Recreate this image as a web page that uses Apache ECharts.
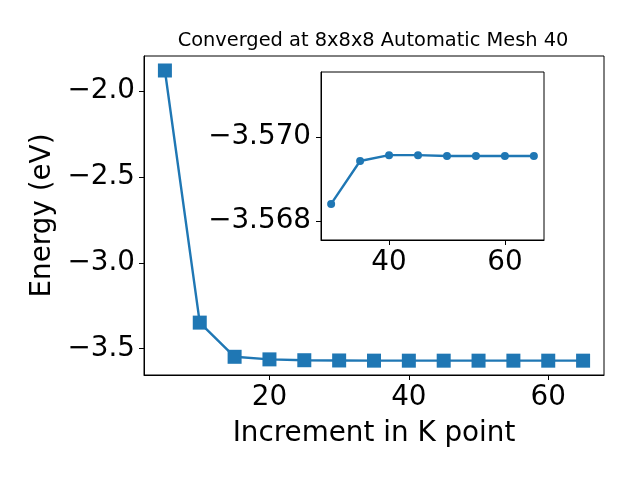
<!DOCTYPE html>
<html>
<head>
<meta charset="utf-8">
<script src="https://cdn.jsdelivr.net/npm/echarts@6/dist/echarts.min.js"></script>
<style>
html,body{margin:0;padding:0;background:#fff;}
#chart{width:640px;height:480px;}
</style>
</head>
<body>
<div id="chart"></div>
<script>
const kpoints = [5, 10, 15, 20, 25, 30, 35, 40, 45, 50, 55, 60, 65];
const energies = [-1.880, -3.348, -3.547, -3.562, -3.567, -3.56841, -3.56943, -3.56957, -3.56957, -3.56955, -3.56955, -3.56955, -3.56955];
const insetStart = 5; // inset shows k points from 30 onward
const mainXTicks = [20, 40, 60];
const mainYTicks = [-3.5, -3.0, -2.5, -2.0];
const insetXTicks = [40, 60];
const insetYTicks = [-3.570, -3.568];
const titleText = 'Converged at 8x8x8 Automatic Mesh 40';
const xName = 'Increment in K point';
const yName = 'Energy (eV)';

const FONT = 'DejaVu Sans';
const BLUE = '#1f77b4';
const minus = s => String(s).replace('-', '\u2212');

const mainData = kpoints.map((k, i) => [k, energies[i]]);
const insetData = kpoints.slice(insetStart).map((k, i) => [k, energies[insetStart + i]]);

const chart = echarts.init(document.getElementById('chart'));
const tickStyle = {show: true, inside: false, length: 5, lineStyle: {color: '#000', width: 1}};
const lineAx = {show: true, onZero: false, lineStyle: {color: '#000', width: 1}};

chart.setOption({
  animation: false,
  backgroundColor: '#fff',
  graphic: [{
    type: 'text', z: 100,
    style: {text: titleText, x: 373, y: 31, textAlign: 'center', textVerticalAlign: 'top',
      fontFamily: FONT, fontSize: 19.4, fill: '#000'}
  }],
  grid: [
    {left: 144, top: 56, width: 460, height: 319, show: true, borderColor: '#000', borderWidth: 1, backgroundColor: '#fff', containLabel: false},
    {left: 321, top: 72, width: 223, height: 168, show: true, borderColor: '#000', borderWidth: 1, backgroundColor: '#fff', containLabel: false, z: 10}
  ],
  xAxis: [
    {type: 'value', gridIndex: 0, min: 2, max: 68, splitLine: {show: false},
      axisLine: lineAx, axisTick: Object.assign({customValues: mainXTicks}, tickStyle),
      axisLabel: {customValues: mainXTicks, fontFamily: FONT, fontSize: 27.8, color: '#000', margin: 9, formatter: v => minus(v)},
      name: xName, nameLocation: 'middle', nameGap: 45,
      nameTextStyle: {fontFamily: FONT, fontSize: 27.8, color: '#000'}},
    {type: 'value', gridIndex: 1, min: 28.25, max: 66.75, splitLine: {show: false}, z: 10,
      axisLine: lineAx, axisTick: Object.assign({customValues: insetXTicks}, tickStyle),
      axisLabel: {customValues: insetXTicks, fontFamily: FONT, fontSize: 27.8, color: '#000', margin: 9, formatter: v => minus(v)}}
  ],
  yAxis: [
    {type: 'value', gridIndex: 0, min: -3.653, max: -1.7956, splitLine: {show: false},
      axisLine: lineAx, axisTick: Object.assign({customValues: mainYTicks}, tickStyle),
      axisLabel: {customValues: mainYTicks, fontFamily: FONT, fontSize: 27.8, color: '#000', margin: 9, formatter: v => minus(v.toFixed(1))},
      name: yName, nameLocation: 'middle', nameGap: 84, nameRotate: 90,
      nameTextStyle: {fontFamily: FONT, fontSize: 27.8, color: '#000'}},
    {type: 'value', gridIndex: 1, min: -3.57155, max: -3.56755, inverse: true, splitLine: {show: false}, z: 10,
      axisLine: lineAx, axisTick: Object.assign({customValues: insetYTicks}, tickStyle),
      axisLabel: {customValues: insetYTicks, fontFamily: FONT, fontSize: 27.8, color: '#000', margin: 10, formatter: v => minus(v.toFixed(3))}}
  ],
  series: [
    {type: 'line', xAxisIndex: 0, yAxisIndex: 0, data: mainData, symbol: 'rect', symbolSize: 14,
      itemStyle: {color: BLUE}, lineStyle: {color: BLUE, width: 2.4}, z: 2},
    {type: 'line', xAxisIndex: 1, yAxisIndex: 1, data: insetData, symbol: 'circle', symbolSize: 8,
      itemStyle: {color: BLUE}, lineStyle: {color: BLUE, width: 2.4}, z: 12}
  ]
});
</script>
</body>
</html>
